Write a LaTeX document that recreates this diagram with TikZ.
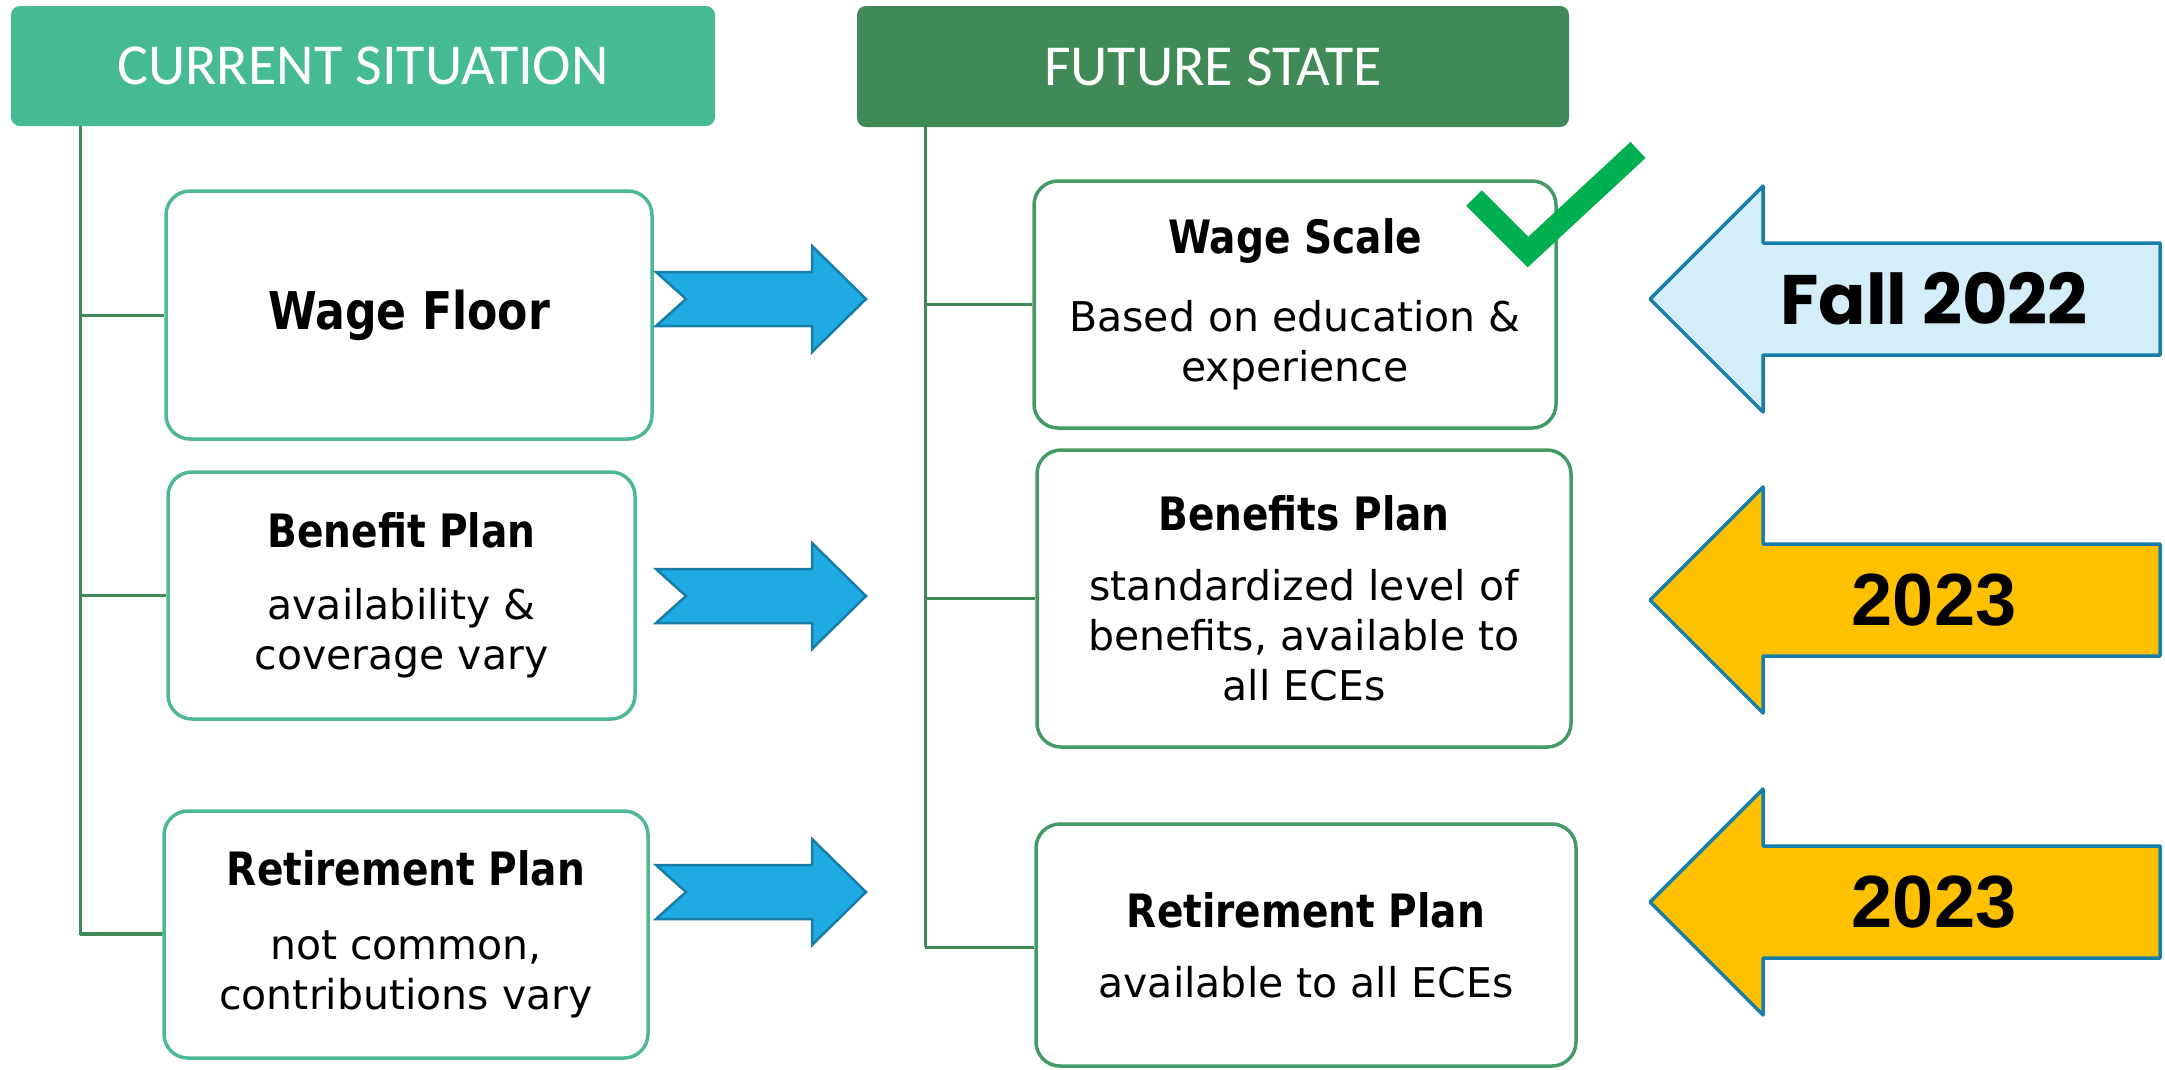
\documentclass[tikz,border=0pt]{standalone}
\usepackage{fontspec}
\setmainfont{DejaVu Sans}
\newfontfamily\headfont{Carlito}
\newfontfamily\titlefont[FakeStretch=0.85]{DejaVu Sans}
\newfontfamily\yearfont{Liberation Sans}
\newfontfamily\fallfont{Poppins}
\usepackage{tikz}
\usetikzlibrary{positioning}

\definecolor{headcur}{HTML}{45BA95}
\definecolor{headfut}{HTML}{3F8A56}
\definecolor{linecur}{HTML}{4DB892}
\definecolor{linefut}{HTML}{439B63}
\definecolor{trunkgreen}{HTML}{3F8A56}
\definecolor{blockblue}{HTML}{1FABE2}
\definecolor{blockedge}{HTML}{167EA8}
\definecolor{paleblue}{HTML}{D4EEF9}
\definecolor{gold}{HTML}{FFC000}
\definecolor{tickgreen}{HTML}{00B050}

\tikzstyle{header} = [rectangle, rounded corners=9pt, inner sep=0pt, text=white, font=\headfont\fontsize{58}{58}\selectfont]
\tikzstyle{item} = [rectangle, rounded corners=24pt, line width=3.5pt, fill=white, inner sep=0pt, align=center, font=\fontsize{41}{50}\selectfont]
\tikzstyle{trunk} = [line width=3pt, trunkgreen]
\tikzstyle{block} = [line width=2.5pt, draw=blockedge, fill=blockblue, line join=miter]
\tikzstyle{year} = [line width=3.5pt, draw=blockedge, line join=round]

\newcommand{\ttl}[1]{{\titlefont\bfseries\fontsize{46}{50}\selectfont #1}}

\begin{document}
\begin{tikzpicture}[x=1pt,y=-1pt]
	\useasboundingbox (0,0) rectangle (2165,1069);
	
	% Headers:
	\node[header, fill=headcur, minimum width=704pt, minimum height=120pt] (curr) at (363,66) {CURRENT SITUATION};
	\node[header, fill=headfut, minimum width=712pt, minimum height=121pt] (futr) at (1213,66.5) {FUTURE STATE};
	
	% Current situation column
	\coordinate (lt) at (80,0);
	\draw[trunk] (curr.south -| lt) |- (436,933) coordinate (lend);
	
	\node[item, draw=linecur, minimum width=486pt, minimum height=248pt] (lkA) at (409,315)
		{{\titlefont\bfseries\fontsize{52}{52}\selectfont Wage Floor}};
	\node[item, draw=linecur, minimum width=467pt, minimum height=247pt] (lkB) at (401.5,595.5)
		{\ttl{Benefit Plan}\\[22pt]availability \&\\coverage vary};
	\node[item, draw=linecur, minimum width=484pt, minimum height=247pt] (lkC) at (406,934.5)
		{\ttl{Retirement Plan}\\[24pt]not common,\\contributions vary};
	
	\draw[trunk] (lt |- lkA.west) -- (lkA.west);
	\draw[trunk] (lt |- lkB.west) -- (lkB.west);
	\draw[trunk] (lt |- lkC.west) -- (lkC.west);
	
	% Future state column
	\coordinate (rt) at (925,0);
	\draw[trunk] (futr.south -| rt) -- (rt |- 0,947);
	
	\node[item, draw=linefut, minimum width=522pt, minimum height=247pt] (rkA) at (1295,304.5)
		{\ttl{Wage Scale}\\[28pt]Based on education \&\\experience};
	\node[item, draw=linefut, minimum width=534pt, minimum height=297pt] (rkB) at (1304,598.5)
		{\ttl{Benefits Plan}\\[20pt]standardized level of\\benefits, available to\\all ECEs};
	\node[item, draw=linefut, minimum width=540pt, minimum height=242pt] (rkC) at (1306,945)
		{\ttl{Retirement Plan}\\[20pt]available to all ECEs};
	
	\draw[trunk] (rt |- rkA.west) -- (rkA.west);
	\draw[trunk] (rt |- rkB.west) -- (rkB.west);
	\draw[trunk] (rt |- 0,947) -- (rkC.west |- 0,947);
	
	% Arrows between the columns
	\draw[block, shift={(0,299)}] (656,-27) -- (812,-27) -- (812,-53) -- (866,0) -- (812,53) -- (812,27) -- (656,27) -- (686,0) -- cycle;
	\draw[block, shift={(0,596)}] (656,-27) -- (812,-27) -- (812,-53) -- (866,0) -- (812,53) -- (812,27) -- (656,27) -- (686,0) -- cycle;
	\draw[block, shift={(0,892)}] (656,-27) -- (812,-27) -- (812,-53) -- (866,0) -- (812,53) -- (812,27) -- (656,27) -- (686,0) -- cycle;
	
	% Check mark on the wage scale
	\draw[tickgreen, line width=22pt] (1474,198) -- (1528,252) -- (1638,150);
	
	% Dates
	\draw[year, fill=paleblue, shift={(0,299)}] (2160,-56) -- (1763,-56) -- (1763,-113) -- (1650,0) -- (1763,113) -- (1763,56) -- (2160,56) -- cycle;
	\draw[year, fill=gold, shift={(0,600)}] (2160,-56) -- (1763,-56) -- (1763,-113) -- (1650,0) -- (1763,113) -- (1763,56) -- (2160,56) -- cycle;
	\draw[year, fill=gold, shift={(0,902)}] (2160,-56) -- (1763,-56) -- (1763,-113) -- (1650,0) -- (1763,113) -- (1763,56) -- (2160,56) -- cycle;
	
	\node[font=\fallfont\bfseries\fontsize{70}{70}\selectfont] (fall) at (1934,299) {Fall 2022};
	\node[font=\yearfont\bfseries\fontsize{74}{74}\selectfont] (yrB) at (1934,600) {2023};
	\node[font=\yearfont\bfseries\fontsize{74}{74}\selectfont] (yrC) at (1934,902) {2023};
	
\end{tikzpicture}
\end{document}
